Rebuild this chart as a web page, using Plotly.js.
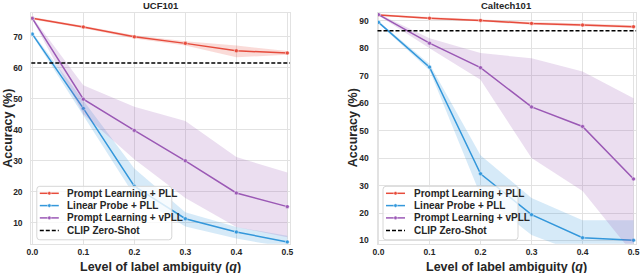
<!DOCTYPE html>
<html>
<head>
<meta charset="utf-8">
<script src="https://cdn.plot.ly/plotly-3.0.1.min.js"></script>
<style>html,body{margin:0;padding:0;background:#fff;}#chart{width:640px;height:273px;}</style>
</head>
<body>
<div id="chart"></div>
<script>
// ---- data ----
const q = [0.0, 0.1, 0.2, 0.3, 0.4, 0.5];
const seriesNames = ["Prompt Learning + PLL", "Linear Probe + PLL", "Prompt Learning + vPLL"];
const zeroShotName = "CLIP Zero-Shot";
const panelTitles = ["UCF101", "Caltech101"];

// UCF101
const ucfPromptPLL      = [76.0, 73.2, 70.0, 67.9, 65.5, 64.8];
const ucfPromptPLLLow   = [75.6, 72.8, 69.5, 67.2, 63.4, 64.2];
const ucfPromptPLLHigh  = [76.4, 73.6, 70.5, 68.6, 67.2, 65.4];
const ucfLinearPLL      = [70.9, 46.9, 21.8, 11.3, 7.0, 3.8];
const ucfLinearPLLLow   = [70.4, 44.5, 18.8, 8.8, 4.9, 2.0];
const ucfLinearPLLHigh  = [71.4, 49.5, 27.5, 13.4, 8.6, 5.8];
const ucfPromptVPLL     = [76.0, 49.9, 39.8, 30.0, 19.6, 15.2];
const ucfPromptVPLLLow  = [75.6, 45.0, 30.5, 18.0, 8.6, 5.3];
const ucfPromptVPLLHigh = [76.4, 54.4, 47.4, 42.8, 31.2, 26.2];
const ucfZeroShot = 61.6;

// Caltech101
const calPromptPLL      = [92.1, 90.9, 90.1, 89.0, 88.4, 87.8];
const calPromptPLLLow   = [91.8, 90.5, 89.7, 88.5, 87.8, 87.3];
const calPromptPLLHigh  = [92.4, 91.3, 90.5, 89.5, 89.0, 88.3];
const calLinearPLL      = [89.4, 73.1, 34.3, 19.4, 11.0, 10.1];
const calLinearPLLLow   = [89.0, 72.0, 26.5, 12.0, 5.0, 4.0];
const calLinearPLLHigh  = [89.8, 74.2, 41.0, 25.5, 17.4, 17.4];
const calPromptVPLL     = [92.2, 81.8, 72.9, 58.6, 51.5, 32.4];
const calPromptVPLLLow  = [91.9, 80.0, 68.5, 40.0, 28.0, 5.0];
const calPromptVPLLHigh = [92.5, 83.6, 78.2, 76.3, 71.5, 61.8];
const calZeroShot = 86.3;

// ---- styles ----
const colors = ["#e74c3c", "#3498db", "#9b59b6"];
const bandColors = ["rgba(231,76,60,0.2)", "rgba(52,152,219,0.2)", "rgba(155,89,182,0.2)"];
const FONT = "Liberation Sans, Arial, Helvetica, sans-serif";
const TXT = "#262626";
const W = 640, H = 273;
const px = v => v / W;
const py = v => 1 - v / H;

const panels = [
  {xa: "x", ya: "y", series: [
    [ucfPromptPLL, ucfPromptPLLLow, ucfPromptPLLHigh],
    [ucfLinearPLL, ucfLinearPLLLow, ucfLinearPLLHigh],
    [ucfPromptVPLL, ucfPromptVPLLLow, ucfPromptVPLLHigh]], zero: ucfZeroShot},
  {xa: "x2", ya: "y2", series: [
    [calPromptPLL, calPromptPLLLow, calPromptPLLHigh],
    [calLinearPLL, calLinearPLLLow, calLinearPLLHigh],
    [calPromptVPLL, calPromptVPLLLow, calPromptVPLLHigh]], zero: calZeroShot}
];

const traces = [];
panels.forEach(p => {
  p.series.forEach((s, i) => {
    traces.push({
      x: q, y: s[0], xaxis: p.xa, yaxis: p.ya, type: "scatter", mode: "lines+markers",
      name: seriesNames[i], showlegend: false,
      line: {color: colors[i], width: 1.5},
      marker: {color: colors[i], size: 4, line: {color: "white", width: 0.6}}
    });
    traces.push({
      x: q.concat(q.slice().reverse()),
      y: s[2].concat(s[1].slice().reverse()),
      xaxis: p.xa, yaxis: p.ya, type: "scatter", mode: "lines", fill: "toself",
      fillcolor: bandColors[i], line: {width: 0, color: "rgba(0,0,0,0)"},
      hoverinfo: "skip", showlegend: false
    });
  });
});

// ---- layout ----
const plotTop = 12.7, plotBot = 243.8;
const yDom = [py(plotBot), py(plotTop)];
const leftX = [31.3, 289.9], rightX = [377.5, 636.1];

function axisCommon() {
  return {
    showgrid: true, gridcolor: "#e2e2e2", gridwidth: 1, zeroline: false,
    showline: true, linecolor: "#e2e2e2", linewidth: 1, mirror: true,
    ticks: "", ticklen: 0, automargin: false,
    tickfont: {family: FONT, size: 8.5, weight: "bold", color: TXT}
  };
}
const xCommon = () => Object.assign(axisCommon(), {range: [-0.002, 0.505], tick0: 0, dtick: 0.1, tickformat: ".1f", ticklabelstandoff: 0});
const yCommon = () => Object.assign(axisCommon(), {tick0: 0, dtick: 10, ticklabelstandoff: 6});

const shapes = [];
const annotations = [];

panels.forEach((p, k) => {
  const yref = k === 0 ? "y" : "y2";
  const xdom = k === 0 ? "x domain" : "x2 domain";
  shapes.push({type: "line", xref: xdom, yref: yref, x0: 0, x1: 1, y0: p.zero, y1: p.zero,
    line: {color: "black", width: 1.5, dash: "4px,2px"}, layer: "above"});
});

// titles
const xl = [leftX, rightX];
xl.forEach((d, k) => {
  const cx = (d[0] + d[1]) / 2;
  annotations.push({text: panelTitles[k], xref: "paper", yref: "paper", x: px(cx), y: py(5.2),
    xanchor: "center", yanchor: "middle", showarrow: false,
    font: {family: FONT, size: 9.5, weight: "bold", color: TXT}});
  annotations.push({text: "Level of label ambiguity (<i>q</i>)", xref: "paper", yref: "paper",
    x: px(cx), y: py(266.8), xanchor: "center", yanchor: "middle", showarrow: false,
    font: {family: FONT, size: 12.5, weight: "bold", color: TXT}});
});
[7.8, 353.3].forEach(xc => {
  annotations.push({text: "Accuracy (%)", xref: "paper", yref: "paper", x: px(xc), y: py(128),
    xanchor: "center", yanchor: "middle", textangle: -90, showarrow: false,
    font: {family: FONT, size: 12.5, weight: "bold", color: TXT}});
});

// legends (one per panel)
function addLegend(plotLeft) {
  const bx0 = plotLeft + 5.5, bx1 = bx0 + 135, by0 = 186.3, by1 = 239.8, r = 3;
  const path = `M ${px(bx0 + r)} ${py(by0)} L ${px(bx1 - r)} ${py(by0)} Q ${px(bx1)} ${py(by0)} ${px(bx1)} ${py(by0 + r)} ` +
    `L ${px(bx1)} ${py(by1 - r)} Q ${px(bx1)} ${py(by1)} ${px(bx1 - r)} ${py(by1)} L ${px(bx0 + r)} ${py(by1)} ` +
    `Q ${px(bx0)} ${py(by1)} ${px(bx0)} ${py(by1 - r)} L ${px(bx0)} ${py(by0 + r)} Q ${px(bx0)} ${py(by0)} ${px(bx0 + r)} ${py(by0)} Z`;
  shapes.push({type: "path", xref: "paper", yref: "paper", path: path,
    fillcolor: "rgba(255,255,255,0.8)", line: {color: "#d6d6d6", width: 1}, layer: "above"});
  const rows = [193.3, 205.6, 217.9, 230.5];
  const lx0 = bx0 + 3, lx1 = bx0 + 22, tx = bx0 + 28.5;
  const names = seriesNames.concat([zeroShotName]);
  rows.forEach((ry, i) => {
    if (i < 3) {
      shapes.push({type: "line", xref: "paper", yref: "paper", x0: px(lx0), x1: px(lx1), y0: py(ry), y1: py(ry),
        line: {color: colors[i], width: 1.5}, layer: "above"});
      const mx = (lx0 + lx1) / 2, rr = 1.8;
      shapes.push({type: "circle", xref: "paper", yref: "paper", x0: px(mx - rr), x1: px(mx + rr), y0: py(ry + rr), y1: py(ry - rr),
        fillcolor: colors[i], line: {color: "white", width: 0.5}, layer: "above"});
    } else {
      shapes.push({type: "line", xref: "paper", yref: "paper", x0: px(lx0), x1: px(lx1), y0: py(ry), y1: py(ry),
        line: {color: "black", width: 1.5, dash: "4px,2px"}, layer: "above"});
    }
    annotations.push({text: names[i], xref: "paper", yref: "paper", x: px(tx), y: py(ry),
      xanchor: "left", yanchor: "middle", showarrow: false,
      font: {family: FONT, size: 10, weight: "bold", color: TXT}});
  });
}
addLegend(leftX[0]);
addLegend(rightX[0]);

const layout = {
  width: W, height: H, margin: {l: 0, r: 0, t: 0, b: 0},
  paper_bgcolor: "white", plot_bgcolor: "white", showlegend: false,
  font: {family: FONT, color: TXT},
  xaxis: Object.assign(xCommon(), {domain: [px(leftX[0]), px(leftX[1])], anchor: "y"}),
  yaxis: Object.assign(yCommon(), {domain: yDom, range: [3.2, 77.8], anchor: "x"}),
  xaxis2: Object.assign(xCommon(), {domain: [px(rightX[0]), px(rightX[1])], anchor: "y2"}),
  yaxis2: Object.assign(yCommon(), {domain: yDom, range: [8.8, 92.9], anchor: "x2"}),
  shapes: shapes, annotations: annotations
};

Plotly.newPlot("chart", traces, layout, {staticPlot: true, displayModeBar: false});
</script>
</body>
</html>
